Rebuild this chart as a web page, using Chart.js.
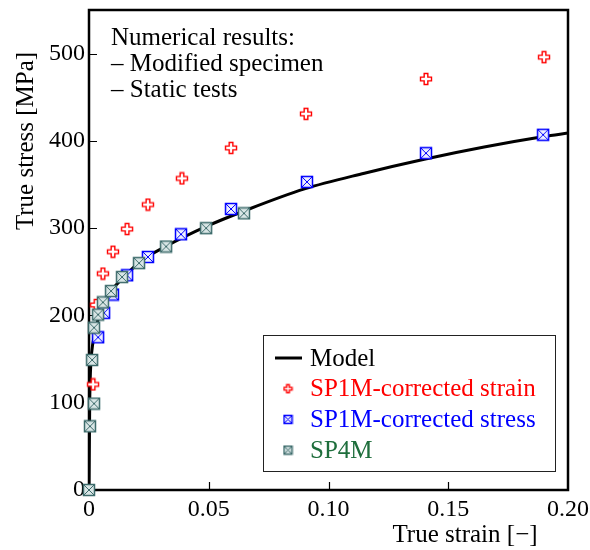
<!DOCTYPE html>
<html>
<head>
<meta charset="utf-8">
<script src="https://cdn.jsdelivr.net/npm/chart.js@4"></script>
<style>
  html, body { margin: 0; background: #fff; }
</style>
</head>
<body>
<canvas id="myChart" width="590" height="550"></canvas>
<script>
const ctx = document.getElementById("myChart");

// model curve
var modelStrain = [0, 0.0003, 0.0006, 0.0011, 0.0025, 0.0046, 0.009, 0.015, 0.021, 0.032, 0.049, 0.065, 0.09, 0.115, 0.14, 0.165, 0.19, 0.2];
var modelStress = [0, 100, 135, 157, 180, 203, 227, 245, 261, 279, 302, 320, 345, 363, 379, 393, 405, 409];

// SP1M - corrected strain
var strainCorrX = [0.0017, 0.003, 0.0058, 0.010, 0.0159, 0.0246, 0.0388, 0.0593, 0.0906, 0.1407, 0.190];
var strainCorrY = [121, 212, 248, 273, 299, 327, 357, 392, 431, 471, 496];

// SP1M - corrected stress
var stressCorrX = [0.0038, 0.0063, 0.010, 0.0159, 0.0246, 0.0384, 0.0593, 0.091, 0.1407, 0.1896];
var stressCorrY = [175, 203, 224, 246, 267, 293, 322, 353, 386, 407];

// SP4M
var sp4mX = [0, 0.0004, 0.0021, 0.0013, 0.0021, 0.0038, 0.0058, 0.0092, 0.0138, 0.0209, 0.0322, 0.0489, 0.0647];
var sp4mY = [0, 73, 99, 149, 186, 201, 215, 228, 244, 260, 279, 300, 317];

var xTickValues = [0, 0.05, 0.1, 0.15, 0.2];
var yTickValues = [0, 100, 200, 300, 400, 500];

var seriesLabels = ["Model", "SP1M-corrected strain", "SP1M-corrected stress", "SP4M"];
var seriesColors = ["#000000", "#ff0000", "#0000ff", "#1e6e3c"];
var noteLines = ["Numerical results:", "\u2013 Modified specimen", "\u2013 Static tests"];

const serif = "'Liberation Serif', 'Times New Roman', serif";

function toPoints(xs, ys) {
  return xs.map(function (x, i) { return { x: x, y: ys[i] }; });
}

// outlined plus marker
function plusMarker(size, color) {
  const c = document.createElement("canvas");
  c.width = c.height = size + 3;
  const g = c.getContext("2d");
  const o = 1.5, a = size / 3;
  g.beginPath();
  g.moveTo(o + a, o);
  g.lineTo(o + 2 * a, o);
  g.lineTo(o + 2 * a, o + a);
  g.lineTo(o + size, o + a);
  g.lineTo(o + size, o + 2 * a);
  g.lineTo(o + 2 * a, o + 2 * a);
  g.lineTo(o + 2 * a, o + size);
  g.lineTo(o + a, o + size);
  g.lineTo(o + a, o + 2 * a);
  g.lineTo(o, o + 2 * a);
  g.lineTo(o, o + a);
  g.lineTo(o + a, o + a);
  g.closePath();
  g.fillStyle = "#fff";
  g.fill();
  g.strokeStyle = color;
  g.lineWidth = 1.4;
  g.stroke();
  return c;
}

// square with an x inside
function boxMarker(size, color, fill) {
  const c = document.createElement("canvas");
  c.width = c.height = size + 3;
  const g = c.getContext("2d");
  const o = 1.5;
  g.fillStyle = fill;
  g.fillRect(o, o, size, size);
  g.strokeStyle = color;
  g.lineWidth = 1.5;
  g.strokeRect(o, o, size, size);
  g.lineWidth = 1;
  g.beginPath();
  g.moveTo(o, o);
  g.lineTo(o + size, o + size);
  g.moveTo(o + size, o);
  g.lineTo(o, o + size);
  g.stroke();
  return c;
}

const markers = {
  plus: plusMarker(11, "#ff0000"),
  blue: boxMarker(11, "#0000ff", "#eef0ff"),
  teal: boxMarker(11, "#3d6b6b", "#d9e6e6"),
};
const legendMarkers = [
  null,
  plusMarker(8, "#ff0000"),
  boxMarker(8, "#0000ff", "#eef0ff"),
  boxMarker(8, "#3d6b6b", "#d9e6e6"),
];

const data = {
  datasets: [
    {
      type: "line",
      label: seriesLabels[0],
      data: toPoints(modelStrain, modelStress),
      borderColor: "#000",
      borderWidth: 3,
      pointRadius: 0,
      cubicInterpolationMode: "monotone",
      order: 4,
    },
    {
      label: seriesLabels[1],
      data: toPoints(strainCorrX, strainCorrY),
      pointStyle: markers.plus,
      clip: false,
      order: 3,
    },
    {
      label: seriesLabels[2],
      data: toPoints(stressCorrX, stressCorrY),
      pointStyle: markers.blue,
      clip: false,
      order: 2,
    },
    {
      label: seriesLabels[3],
      data: toPoints(sp4mX, sp4mY),
      pointStyle: markers.teal,
      clip: false,
      order: 1,
    },
  ],
};

const framePlugin = {
  id: "frame",
  beforeDatasetsDraw: function (chart) {
    const a = chart.chartArea;
    const g = chart.ctx;
    const xs = chart.scales.x, ys = chart.scales.y;
    g.save();
    g.strokeStyle = "#000";
    g.lineWidth = 1.2;
    g.beginPath();
    xTickValues.slice(1, -1).forEach(function (v) {
      const px = Math.round(xs.getPixelForValue(v)) + 0.5;
      g.moveTo(px, a.bottom);
      g.lineTo(px, a.bottom - 8);
    });
    yTickValues.slice(1).forEach(function (v) {
      const py = Math.round(ys.getPixelForValue(v)) + 0.5;
      g.moveTo(a.left, py);
      g.lineTo(a.left + 8, py);
    });
    g.stroke();
    g.lineWidth = 2.5;
    g.strokeRect(a.left, a.top, a.right - a.left, a.bottom - a.top);
    g.restore();
  },
  afterDraw: function (chart) {
    const g = chart.ctx;
    g.save();
    g.fillStyle = "#000";
    g.font = "25px " + serif;
    g.textBaseline = "alphabetic";
    g.textAlign = "left";
    noteLines.forEach(function (t, i) {
      g.fillText(t, 111, 45 + i * 26);
    });

    // axis titles
    g.textAlign = "center";
    g.textBaseline = "middle";
    g.fillText("True strain [\u2212]", 465, 535);
    g.save();
    g.translate(26, 141);
    g.rotate(-Math.PI / 2);
    g.fillText("True stress [MPa]", 0, 0);
    g.restore();

    // legend box
    g.lineWidth = 1;
    g.strokeStyle = "#222";
    g.fillStyle = "#fff";
    g.fillRect(263.5, 335.5, 292, 136);
    g.strokeRect(263.5, 335.5, 292, 136);
    g.textAlign = "left";
    chart.data.datasets.forEach(function (ds, i) {
      const cy = 358 + i * 30.7;
      if (i === 0) {
        g.strokeStyle = "#000";
        g.lineWidth = 3;
        g.beginPath();
        g.moveTo(275, cy);
        g.lineTo(302, cy);
        g.stroke();
      } else {
        const m = legendMarkers[i];
        g.drawImage(m, 288 - m.width / 2, cy - m.height / 2);
      }
      g.fillStyle = seriesColors[i];
      g.fillText(ds.label, 310, cy + 1);
    });
    g.restore();
  },
};

function noPadding(scale) {
  scale.paddingLeft = 0;
  scale.paddingRight = 0;
  scale.paddingTop = 0;
  scale.paddingBottom = 0;
}

new Chart(ctx, {
  type: "scatter",
  data: data,
  options: {
    responsive: false,
    animation: false,
    devicePixelRatio: 1,
    layout: { padding: { top: 10, right: 22, left: 0, bottom: 0 } },
    plugins: {
      legend: { display: false },
      tooltip: { enabled: false },
    },
    scales: {
      x: {
        type: "linear",
        min: 0,
        max: 0.2,
        grid: { display: false, drawTicks: false },
        border: { display: false },
        afterBuildTicks: function (scale) {
          scale.ticks = xTickValues.map(function (v) { return { value: v }; });
        },
        afterFit: function (scale) { scale.height = 60; noPadding(scale); },
        ticks: {
          color: "#000",
          padding: 5,
          maxRotation: 0,
          autoSkip: false,
          font: { family: serif, size: 24 },
          callback: function (v) { return v === 0 ? "0" : v.toFixed(2); },
        },
      },
      y: {
        type: "linear",
        min: 0,
        max: 550,
        grid: { display: false, drawTicks: false },
        border: { display: false },
        afterBuildTicks: function (scale) {
          scale.ticks = yTickValues.map(function (v) { return { value: v }; });
        },
        afterFit: function (scale) { scale.width = 89; noPadding(scale); },
        ticks: {
          color: "#000",
          padding: 4,
          autoSkip: false,
          font: { family: serif, size: 24 },
        },
      },
    },
  },
  plugins: [framePlugin],
});
</script>
</body>
</html>
